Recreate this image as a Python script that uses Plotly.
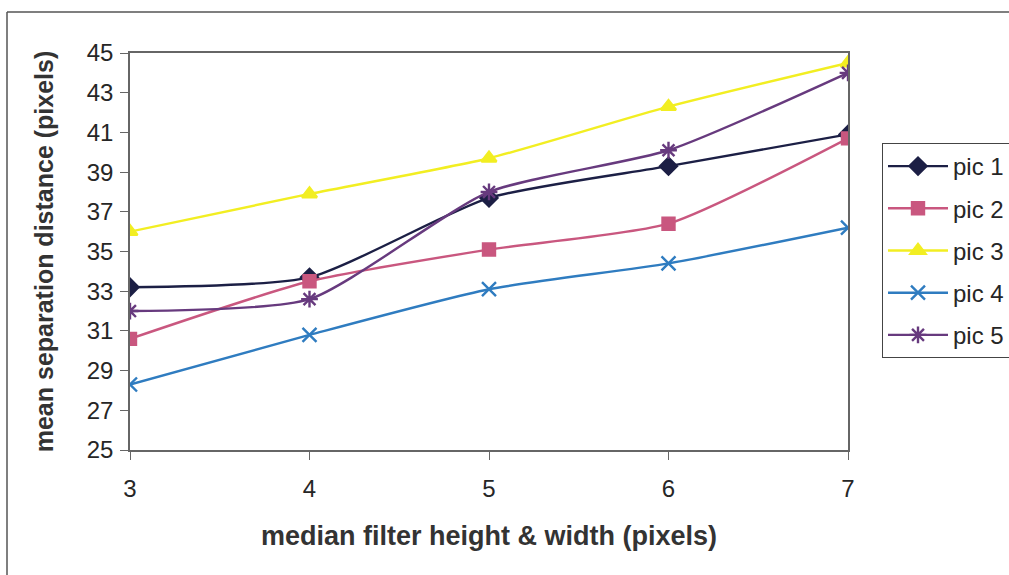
import plotly.graph_objects as go

x_vals = [3, 4, 5, 6, 7]
pic1 = [33.2, 33.7, 37.7, 39.3, 40.9]
pic2 = [30.6, 33.5, 35.1, 36.4, 40.7]
pic3 = [36.0, 37.9, 39.7, 42.3, 44.5]
pic4 = [28.3, 30.8, 33.1, 34.4, 36.2]
pic5 = [32.0, 32.6, 38.0, 40.1, 44.0]
names = ["pic 1", "pic 2", "pic 3", "pic 4", "pic 5"]
series = [pic1, pic2, pic3, pic4, pic5]
colors = ["#1c1f45", "#c9577f", "#f2ee22", "#2f7cc0", "#673a7e"]
symbols = ["diamond", "square", "triangle-up", "x-thin-open", "asterisk-open"]
sizes = [13, 12, 13, 14, 14]

fig = go.Figure()
for i, (nm, ys) in enumerate(zip(names, series)):
    fig.add_trace(go.Scatter(
        x=x_vals, y=ys, name=nm, mode="lines+markers",
        line=dict(color=colors[i], width=2.4, shape="spline", smoothing=0.6),
        marker=dict(symbol=symbols[i], size=sizes[i], color=colors[i],
                    line=dict(color=colors[i], width=2.4)),
        legendgroup=nm,
    ))

W, H = 1009, 575
L, R, T, B = 130, 161, 53, 125
pw, ph = W - L - R, H - T - B

def px2x(px):
    return (px - L) / pw

def py2y(py):
    return (H - B - py) / ph

fig.update_layout(
    width=W, height=H,
    margin=dict(l=L, r=R, t=T, b=B, autoexpand=False),
    paper_bgcolor="white", plot_bgcolor="white",
    font=dict(family="Liberation Sans, Arial, sans-serif", size=24, color="#262626"),
    showlegend=True,
    legend=dict(
        x=px2x(882), y=py2y(143), xanchor="left", yanchor="top",
        bordercolor="#444444", borderwidth=1, bgcolor="white",
        font=dict(size=24, color="#262626"),
        tracegroupgap=8, traceorder="grouped",
        itemwidth=60,
    ),
    shapes=[
        dict(type="line", xref="paper", yref="paper", layer="below",
             x0=px2x(7), x1=px2x(7), y0=py2y(12), y1=py2y(600),
             line=dict(color="#555555", width=1.5)),
        dict(type="line", xref="paper", yref="paper", layer="below",
             x0=px2x(7), x1=px2x(1030), y0=py2y(12), y1=py2y(12),
             line=dict(color="#555555", width=1.5)),
    ],
)

fig.update_xaxes(
    range=[3, 7], dtick=1, tick0=3, showgrid=False, zeroline=False,
    showline=True, linecolor="#666666", linewidth=1.5, mirror=True,
    ticks="outside", ticklen=8, tickcolor="#666666", ticklabelstandoff=8,
    tickfont=dict(size=24, color="#262626"),
    title=dict(text="<b>median filter height &amp; width (pixels)</b>",
               font=dict(size=27, color="#333333"), standoff=26),
)
fig.update_yaxes(
    range=[25, 45], dtick=2, tick0=25, showgrid=False, zeroline=False,
    showline=True, linecolor="#666666", linewidth=1.5, mirror=True,
    ticks="outside", ticklen=8, tickcolor="#666666", ticklabelstandoff=2,
    tickfont=dict(size=24, color="#262626"),
    title=dict(text="<b>mean separation distance (pixels)</b>",
               font=dict(size=25, color="#333333"), standoff=26),
)

fig.write_html("out.html")
